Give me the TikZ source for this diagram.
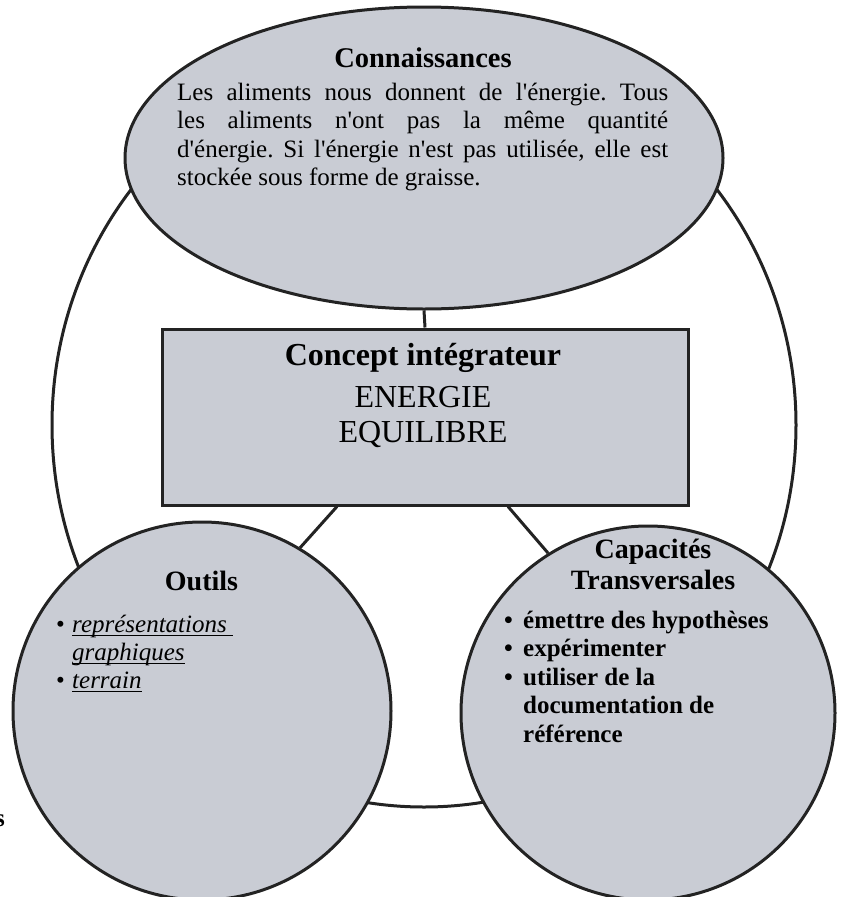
\documentclass[tikz,border=0pt]{standalone}
\usepackage{fontspec}
\setmainfont{Liberation Serif}
\usetikzlibrary{shapes.geometric}
\definecolor{shapefill}{RGB}{201,204,212}
\definecolor{edgecol}{RGB}{35,35,35}
\newcommand{\ulx}[1]{\setbox0\hbox{#1}\rlap{\rule[-4pt]{\wd0}{1.7pt}}\box0}
\newcommand{\ap}{\textquotesingle}
\frenchspacing
\begin{document}
\begin{tikzpicture}[x=1pt,y=-1pt,
  shapebox/.style={draw=edgecol, line width=3pt, fill=shapefill, inner sep=0pt},
  link/.style={draw=edgecol, line width=3pt},
  lbl/.style={inner sep=0pt, text=black}]
\useasboundingbox (0,0) rectangle (841,897);
% outer frame
\node[ellipse, draw=edgecol, line width=3pt, minimum width=744pt, minimum height=764pt, inner sep=0pt] (frame) at (424,425) {};
% shapes
\node[shapebox, ellipse, minimum width=598pt, minimum height=302pt] (know) at (424,158) {};
\node[shapebox, rectangle, minimum width=526pt, minimum height=176pt] (concept) at (425,417) {};
\node[shapebox, circle, minimum size=378pt] (tools) at (202,711) {};
\node[shapebox, circle, minimum size=374pt] (skills) at (648,713) {};
% connectors
\draw[link] (know.south) -- (concept.north);
\draw[link] ([xshift=-88pt]concept.south) -- (tools.59);
\draw[link] ([xshift=83pt]concept.south) -- (skills.122);
% texts
\node[lbl, anchor=base, font=\bfseries\fontsize{28.5}{32}\selectfont] (knowtitle) at (423,67) {Connaissances};
\node[lbl, anchor=north west, font=\fontsize{25}{28.5}\selectfont, align=left] (knowtext) at (177,80) {\strut\makebox[491pt][s]{Les aliments nous donnent de l\ap énergie. Tous}\\
\makebox[491pt][s]{les aliments n\ap ont pas la même quantité}\\
\makebox[491pt][s]{d\ap énergie. Si l\ap énergie n\ap est pas utilisée, elle est}\\
stockée sous forme de graisse.};
\node[lbl, anchor=base, font=\bfseries\fontsize{32}{36}\selectfont] (concepttitle) at (423,365) {Concept intégrateur};
\node[lbl, anchor=north, font=\fontsize{32}{35}\selectfont, align=center] (conceptwords) at (423,382.5) {\strut ENERGIE\\EQUILIBRE};
\node[lbl, anchor=base, font=\bfseries\fontsize{28}{31}\selectfont] (toolstitle) at (201.5,590) {Outils};
\node[lbl, anchor=north west, font=\itshape\fontsize{25}{28}\selectfont, align=left] (toolslist) at (56,612.4) {\strut\makebox[16pt][l]{\upshape •}\ulx{représentations }\\
\hspace*{16pt}\ulx{graphiques}\\
\makebox[16pt][l]{\upshape •}\ulx{terrain}};
\node[lbl, anchor=north, font=\bfseries\fontsize{28}{31}\selectfont, align=center] (skillstitle) at (653,536.3) {\strut Capacités\\Transversales};
\node[lbl, anchor=north west, font=\bfseries\fontsize{25}{28.5}\selectfont, align=left] (skillslist) at (504,608) {\strut\makebox[19pt][l]{•}émettre des hypothèses\\
\makebox[19pt][l]{•}expérimenter\\
\makebox[19pt][l]{•}utiliser de la\\
\hspace*{19pt}documentation de\\
\hspace*{19pt}référence};
\node[lbl, anchor=base east, font=\bfseries\fontsize{25}{28}\selectfont] (stray) at (5,826) {s};
\end{tikzpicture}
\end{document}
